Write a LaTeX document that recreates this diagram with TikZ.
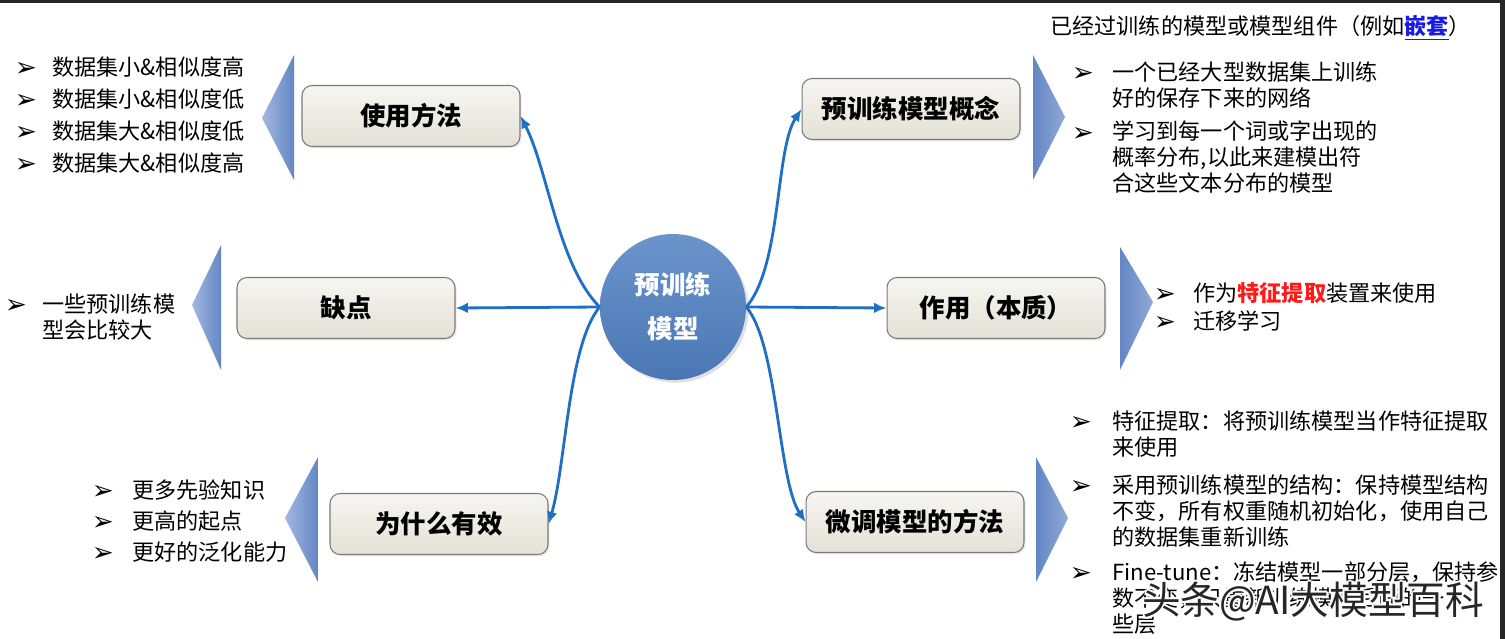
\documentclass[tikz,border=0pt]{standalone}
\usepackage{fontspec}
\setmainfont{Noto Sans CJK SC}
\newfontfamily\dejavu{DejaVu Sans}
\usetikzlibrary{arrows.meta,shadows}
\definecolor{connblue}{HTML}{1F6FC4}
\definecolor{boxtop}{HTML}{F6F5F0}
\definecolor{boxbot}{HTML}{E4E1D6}
\definecolor{boxline}{HTML}{7A7A7A}
\definecolor{circtop}{HTML}{6B94CC}
\definecolor{circbot}{HTML}{4A77B4}
\definecolor{tridark}{HTML}{6386C4}
\definecolor{trilight}{HTML}{A4B8DF}
\definecolor{linkblue}{HTML}{1A1AE6}
\definecolor{featred}{HTML}{FF1A1A}
\tikzset{
  conn/.style={draw=connblue, line width=1.6pt, -{Latex[length=7pt,width=6pt]}},
  topic/.style={rounded corners=0.2cm, draw=boxline, line width=0.6pt,
    top color=boxtop, bottom color=boxbot, minimum width=4.36cm, minimum height=1.22cm,
    font=\fontsize{14.5}{17}\selectfont\bfseries, inner sep=0pt,
    drop shadow={opacity=0.15, shadow xshift=1pt, shadow yshift=-1pt}},
  txt/.style={anchor=west, inner sep=0pt, align=left, font=\fontsize{12.6}{15}\selectfont},
  bul/.style={inner sep=0pt, font=\dejavu\fontsize{15}{16}\selectfont},
  wmark/.style={inner sep=0pt, font=\fontsize{22}{24}\selectfont}
}
\begin{document}
\begin{tikzpicture}[x=0.02cm, y=-0.02cm]
\useasboundingbox (0,0) rectangle (1505,639);
\fill[white] (0,0) rectangle (1505,639);
\fill[black!85] (0,0) rectangle (1505,3);
\fill[black!85] (1500,0) rectangle (1505,639);

% centre
\node[circle, minimum size=2.92cm, top color=circtop, bottom color=circbot,
  text=white, align=center, font=\fontsize{14.5}{25}\selectfont\bfseries,
  drop shadow={opacity=0.25, shadow xshift=1.5pt, shadow yshift=-1.5pt}] (c) at (673,307) {预训练\\模型};

% topics
\node[topic] (use) at (411,116) {使用方法};
\node[topic] (que) at (346,308) {缺点};
\node[topic] (why) at (439,524) {为什么有效};
\node[topic] (con) at (911,109) {预训练模型概念};
\node[topic] (zy)  at (996,308) {作用（本质）};
\node[topic] (wt)  at (915,522) {微调模型的方法};

% triangles
\shade[left color=trilight, right color=tridark] (294,55) -- (294,180) -- (262,118) -- cycle;
\shade[left color=trilight, right color=tridark] (221,245) -- (221,370) -- (192,305) -- cycle;
\shade[left color=trilight, right color=tridark] (318,457) -- (318,582) -- (285,518) -- cycle;
\shade[left color=tridark, right color=trilight!70!tridark] (1033,55) -- (1033,180) -- (1065,117) -- cycle;
\shade[left color=tridark, right color=trilight!70!tridark] (1120,247) -- (1120,370) -- (1153,302) -- cycle;
\shade[left color=tridark, right color=trilight!70!tridark] (1036,457) -- (1036,582) -- (1068,518) -- cycle;

% connectors
\draw[conn] (c.west) .. controls (558,265) and (548,170) .. (use.east);
\draw[conn] (c.west) -- (que.east);
\draw[conn] (c.west) .. controls (568,345) and (566,465) .. (why.east);
\draw[conn] (c.east) .. controls (782,265) and (775,150) .. (con.west);
\draw[conn] (c.east) -- (zy.west);
\draw[conn] (c.east) .. controls (778,345) and (778,480) .. (wt.west);

% 使用方法 list
\node[bul] (ub1) at (26,69) {➢};
\node[bul] (ub2) at (26,101) {➢};
\node[bul] (ub3) at (26,133) {➢};
\node[bul] (ub4) at (26,165) {➢};
\node[txt] (ut1) at (52,67) {数据集小\&相似度高};
\node[txt] (ut2) at (52,99) {数据集小\&相似度低};
\node[txt] (ut3) at (52,131) {数据集大\&相似度低};
\node[txt] (ut4) at (52,163) {数据集大\&相似度高};

% 缺点 list
\node[bul] (qb1) at (16,306) {➢};
\node[txt, font=\fontsize{12.6}{14.8}\selectfont] (qt1) at (42,317) {一些预训练模\\型会比较大};

% 为什么有效 list
\node[bul] (wb1) at (103,492) {➢};
\node[bul] (wb2) at (103,523) {➢};
\node[bul] (wb3) at (103,554) {➢};
\node[txt] (wh1) at (132,490) {更多先验知识};
\node[txt] (wh2) at (132,521) {更高的起点};
\node[txt] (wh3) at (132,552) {更好的泛化能力};

% 预训练模型概念 list
\node[txt] (ch) at (1050,28) {已经过训练的模型或模型组件（例如{\color{linkblue}\bfseries\underline{嵌套}}）};
\node[bul] (cb1) at (1083,74) {➢};
\node[bul] (cb2) at (1083,134) {➢};
\node[txt, font=\fontsize{12.6}{14.8}\selectfont] (ct1) at (1112,85) {一个已经大型数据集上训练\\好的保存下来的网络};
\node[txt, font=\fontsize{12.6}{14.8}\selectfont] (ct2) at (1112,157.5) {学习到每一个词或字出现的\\概率分布,以此来建模出符\\合这些文本分布的模型};

% 作用 list
\node[bul] (zb1) at (1165,295) {➢};
\node[bul] (zb2) at (1165,323) {➢};
\node[txt] (zt1) at (1193,293) {作为{\color{featred}\bfseries 特征提取}装置来使用};
\node[txt] (zt2) at (1193,321) {迁移学习};

% 微调 list
\node[bul] (fb1) at (1081,423) {➢};
\node[bul] (fb2) at (1081,487) {➢};
\node[bul] (fb3) at (1081,574) {➢};
\node[txt, font=\fontsize{12.6}{15}\selectfont] (ft1) at (1112,434) {特征提取：将预训练模型当作特征提取\\来使用};
\node[txt, font=\fontsize{12.6}{15}\selectfont] (ft2) at (1112,511) {采用预训练模型的结构：保持模型结构\\不变，所有权重随机初始化，使用自己\\的数据集重新训练};
\node[txt, font=\fontsize{12.6}{15}\selectfont] (ft3) at (1112,598) {Fine-tune：冻结模型一部分层，保持参\\数不变，只重新训练模型后面的一\\些层};

% watermark
\foreach \dx/\dy in {-2/0,2/0,0/-2,0/2,-1.5/-1.5,1.5/1.5,-1.5/1.5,1.5/-1.5}
  \node[wmark, text=white] at (1313+\dx,602+\dy) {头条@AI大模型百科};
\node[wmark, text=black!85] (wm) at (1313,602) {头条@AI大模型百科};
\end{tikzpicture}
\end{document}
